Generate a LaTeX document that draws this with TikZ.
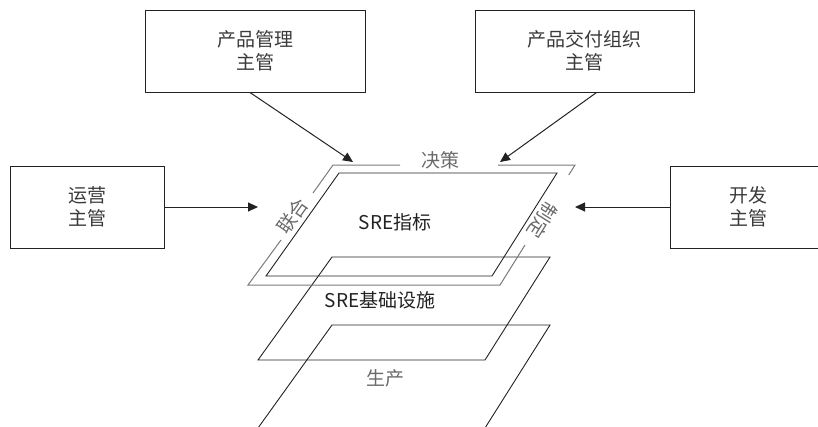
\documentclass[tikz,border=0pt]{standalone}
\usepackage{fontspec}
\setmainfont{Noto Sans CJK SC}
\usetikzlibrary{arrows.meta}
\definecolor{txt}{HTML}{3A3A3A}
\definecolor{lbl}{HTML}{6A6A6A}
\definecolor{framec}{HTML}{7A7A7A}
\definecolor{boxc}{HTML}{222222}
\begin{document}
\begin{tikzpicture}[x=1pt,y=-1pt,
  box/.style={draw=boxc,line width=1pt,align=center,inner sep=0pt,text=txt,
    font=\fontsize{19}{23}\selectfont},
  arr/.style={draw=boxc,line width=1pt,-{Triangle[length=10pt,width=9pt]}},
  plane/.style={draw=boxc,line width=0.9pt,line join=miter},
  gline/.style={draw=framec,line width=1pt},
  lab/.style={text=lbl,font=\fontsize{19}{23}\selectfont,inner sep=0pt},
  main/.style={text=boxc,font=\fontsize{19}{23}\selectfont,inner sep=0pt}]
\useasboundingbox (0,0) rectangle (818,426);
\clip (0,0) rectangle (818,426);
% boxes
\node[box,minimum width=220pt,minimum height=82pt] (b1) at (255,51) {产品管理\\主管};
\node[box,minimum width=219pt,minimum height=82pt] (b2) at (584.5,51) {产品交付组织\\主管};
\node[box,minimum width=154pt,minimum height=82pt] (b3) at (87,207) {运营\\主管};
\node[box,minimum width=156pt,minimum height=82pt] (b4) at (748,207) {开发\\主管};
% planes
\coordinate (a1) at (339,173); \coordinate (a2) at (557,173);
\coordinate (a3) at (492,276); \coordinate (a4) at (266,276);
\coordinate (c1) at (332,257); \coordinate (c2) at (550,257);
\coordinate (c3) at (485,360); \coordinate (c4) at (258,360);
\coordinate (d1) at (332,325); \coordinate (d2) at (550,325);
\coordinate (d3) at (485,428); \coordinate (d4) at (258,428);
\draw[plane] (d1) -- (d2) -- (d3) -- (d4) -- cycle;
\draw[plane] (c1) -- (c2) -- (c3) -- (c4) -- cycle;
\draw[plane] (a1) -- (a2) -- (a3) -- (a4) -- cycle;
% gray frame
\coordinate (g1) at (333,165); \coordinate (g2) at (575,165);
\coordinate (g3) at (500,285); \coordinate (g4) at (248,285);
\draw[gline] (400,165) -- (g1) -- (313,193);
\draw[gline] (281,240) -- (g4) -- (g3) -- (525,245);
\draw[gline] (498,165) -- (g2) -- (568.75,175);
% labels
\node[main] (m1) at (395,222) {SRE指标};
\node[main] (m2) at (380,300) {SRE基础设施};
\node[lab] (m3) at (385,378) {生产};
\node[lab] (l1) at (440,160) {决策};
\node[lab,rotate=54.7] (l2) at (293,216) {联合};
\node[lab,rotate=-122] (l3) at (543,220) {制定};
% arrows
\coordinate (t1) at (353,162);
\coordinate (t2) at (500,162);
\coordinate (t3) at (258,207);
\coordinate (t4) at (575,207);
\draw[arr] ([xshift=-5pt]b1.south) -- (t1);
\draw[arr] ([xshift=12pt]b2.south) -- (t2);
\draw[arr] (b3.east) -- (t3);
\draw[arr] (b4.west) -- (t4);
\end{tikzpicture}
\end{document}
